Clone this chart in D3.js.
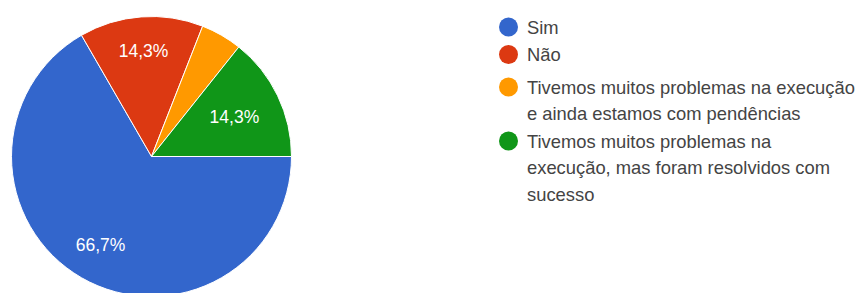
<!DOCTYPE html>
<html><head><meta charset="utf-8">
<script src="https://cdn.jsdelivr.net/npm/d3@7"></script>
<style>body{margin:0;background:#fff}</style>
</head><body>
<svg id="c" width="863" height="293"></svg>
<script>
const categories = ["Sim", "Não", "Tivemos muitos problemas na execução e ainda estamos com pendências", "Tivemos muitos problemas na execução, mas foram resolvidos com sucesso"];
const legendLines = [["Sim"], ["Não"], ["Tivemos muitos problemas na execução", "e ainda estamos com pendências"], ["Tivemos muitos problemas na", "execução, mas foram resolvidos com", "sucesso"]];
const values = [14, 3, 1, 3];
const labels = ["66,7%", "14,3%", "", "14,3%"];
const colors = ["#3366cc", "#dc3912", "#ff9900", "#109618"];

const svg = d3.select("#c");
const font = "'Liberation Sans', Arial, sans-serif";
const cx = 151.5, cy = 156.5, r = 140;
const labelRadius = [102, 106, 0, 92];
const pie = d3.pie().sort(null).value(d => d).startAngle(Math.PI / 2).endAngle(Math.PI / 2 + 2 * Math.PI);
const arcs = pie(values);
const arc = d3.arc().innerRadius(0).outerRadius(r);
const g = svg.append("g").attr("transform", `translate(${cx},${cy})`);
g.selectAll("path").data(arcs).join("path")
  .attr("d", arc).attr("fill", (d, i) => colors[i])
  .attr("stroke", "#fff").attr("stroke-width", 1);
g.selectAll("text").data(arcs).join("text")
  .attr("transform", (d, i) => {
    const a = (d.startAngle + d.endAngle) / 2;
    const lr = labelRadius[i];
    return `translate(${Math.sin(a) * lr},${-Math.cos(a) * lr})`;
  })
  .attr("text-anchor", "middle").attr("dominant-baseline", "central")
  .attr("fill", "#fff").attr("font-family", font).attr("font-size", 17.5)
  .text((d, i) => labels[i]);

const lx = 508.5, tx = 527;
const firstY = [27, 54.5, 87, 141];
const lineH = 26.5;
// measure to fit longest legend line to target width
const probe = svg.append("text").attr("font-family", font).attr("font-size", 18).text(legendLines[2][0]);
const w18 = probe.node().getComputedTextLength();
probe.remove();
const fs = 18 * 328 / w18;
const lg = svg.append("g");
legendLines.forEach((lines, i) => {
  lg.append("circle").attr("cx", lx).attr("cy", firstY[i]).attr("r", 9.5).attr("fill", colors[i]);
  lines.forEach((t, j) => {
    lg.append("text").attr("x", tx).attr("y", firstY[i] + j * lineH)
      .attr("dominant-baseline", "central")
      .attr("font-family", font).attr("font-size", fs).attr("fill", "#444")
      .text(t);
  });
});
</script>
</body></html>
